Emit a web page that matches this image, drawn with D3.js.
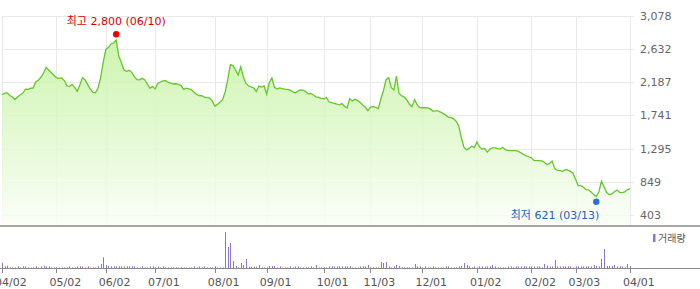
<!DOCTYPE html>
<html>
<head>
<meta charset="utf-8">
<script src="https://cdn.jsdelivr.net/npm/d3@7"></script>
<style>
  body { margin: 0; background: #fff; }
  text { font-family: "DejaVu Sans", "Noto Sans CJK KR", sans-serif; }
</style>
</head>
<body>
<div id="wrap"></div>
<script>
// daily closing price, one per trading day from 04/02 to 04/01
var prices = [
  2020,2040,2045,2010,1990,1955,1990,2015,2038,2094,2090,2107,2110,2191,2215,2254,2312,2387,2352,2316,
  2281,2245,2240,2245,2210,2140,2129,2159,2119,2066,2151,2248,2221,2156,2097,2050,2046,2107,2250,2456,
  2628,2657,2702,2715,2755,2540,2454,2352,2335,2348,2321,2262,2222,2219,2240,2222,2164,2107,2132,2098,
  2172,2191,2206,2208,2188,2175,2164,2167,2159,2143,2092,2107,2099,2087,2054,2023,2007,2006,1988,1981,
  1976,1937,1868,1890,1919,1953,2057,2227,2425,2411,2352,2285,2395,2262,2171,2137,2125,2110,2062,2137,
  2122,2137,2026,2184,2245,2118,2096,2112,2102,2096,2093,2081,2061,2042,2070,2086,2083,2062,2031,2036,
  2017,1992,1984,1972,1964,1982,1925,1914,1905,1895,1883,1902,1863,1841,1966,1937,1958,1943,1918,1880,
  1851,1806,1852,1859,1851,1833,1962,2076,2223,2249,2117,2083,2271,2036,2006,1988,1949,1891,1859,1954,
  1882,1847,1845,1845,1843,1829,1801,1803,1803,1787,1766,1745,1720,1714,1696,1664,1604,1445,1314,1278,
  1298,1327,1308,1384,1318,1290,1297,1246,1289,1304,1304,1294,1289,1312,1280,1273,1268,1268,1268,1258,
  1238,1216,1198,1186,1171,1137,1133,1133,1131,1113,1078,1096,1127,1026,1006,1001,988,1012,1008,989,
  964,887,797,797,780,743,741,712,677,650,712,857,783,705,679,688,716,738,708,705,
  714,742,757
];
// daily volume (thousand shares)
var volumes = [
  265,85,115,30,30,30,85,30,80,80,30,30,30,80,30,80,115,80,80,30,
  30,30,30,30,30,30,85,30,30,80,80,80,30,80,30,30,30,85,200,535,
  150,100,85,85,85,85,85,85,85,85,85,85,30,30,85,30,30,80,80,30,
  80,30,80,30,30,30,30,30,30,30,30,30,30,30,80,30,80,30,80,30,
  30,30,85,30,30,30,1800,1050,1250,350,100,40,250,150,450,60,60,60,60,150,
  30,30,30,100,100,100,30,80,30,30,30,80,30,80,80,30,30,30,30,80,
  30,150,30,30,30,30,80,80,80,80,80,80,80,80,100,30,30,30,80,80,
  80,150,30,30,30,30,300,250,300,80,30,80,150,100,30,30,30,30,30,200,
  80,80,30,80,30,30,80,30,30,30,30,80,80,30,30,30,80,100,250,150,
  80,30,80,30,80,80,80,80,80,150,80,30,30,30,30,80,80,30,80,80,
  80,80,80,80,80,80,80,80,30,200,120,80,80,400,80,80,80,80,80,80,
  30,80,80,80,80,80,80,80,150,100,80,450,950,100,100,100,150,80,80,80,
  30,200,100
];
var priceTicks = [403, 849, 1295, 1741, 2187, 2632, 3078];
var dateTickIdx = [0, 21, 40, 59, 82, 102, 124, 142, 162, 183, 204, 221, 242];
var dateTickLabels = ['04/02','05/02','06/02','07/01','08/01','09/01','10/01','11/03','12/01','01/02','02/02','03/03','04/01'];
var highPoint = {idx: 44, value: 2800, label: '최고 2,800 (06/10)'};
var lowPoint = {idx: 229, value: 621, label: '최저 621 (03/13)'};

var width = 700, height = 289;
var svg = d3.select('#wrap').append('svg')
  .attr('width', width)
  .attr('height', height);

var x = d3.scaleLinear().domain([0, prices.length - 1]).range([2, 630]);
var y = d3.scaleLinear().domain([403, 3078]).range([215, 16]);
var vy = d3.scaleLinear().domain([0, 2000]).range([268, 228]);
var panelBottom = 226;

//gradient
var defs = svg.append('defs');
var grad = defs.append('linearGradient')
  .attr('id', 'areaGrad')
  .attr('gradientUnits', 'userSpaceOnUse')
  .attr('x1', 0).attr('y1', 30)
  .attr('x2', 0).attr('y2', panelBottom);
grad.append('stop').attr('offset', '0%').attr('stop-color', '#c2f29c');
grad.append('stop').attr('offset', '100%').attr('stop-color', '#fafef7');

//grid
var grid = svg.append('g').attr('class', 'grid');
grid.selectAll('.hgrid')
  .data(priceTicks)
  .enter().append('line')
    .attr('x1', 2).attr('x2', 634)
    .attr('y1', function(d){ return Math.round(y(d)) + 0.5; })
    .attr('y2', function(d){ return Math.round(y(d)) + 0.5; })
    .style('stroke', '#e9e9e9');
grid.selectAll('.vgrid')
  .data(dateTickIdx)
  .enter().append('line')
    .attr('x1', function(d){ return Math.round(x(d)) + 0.5; })
    .attr('x2', function(d){ return Math.round(x(d)) + 0.5; })
    .attr('y1', 16).attr('y2', panelBottom)
    .style('stroke', '#e9e9e9');

//area + line
var area = d3.area()
  .x(function(d, i){ return x(i); })
  .y0(panelBottom)
  .y1(function(d){ return y(d); });
var line = d3.line()
  .x(function(d, i){ return x(i); })
  .y(function(d){ return y(d); });

svg.append('path')
  .datum(prices)
  .attr('d', area)
  .style('fill', 'url(#areaGrad)')
  .style('opacity', 0.85);
svg.append('path')
  .datum(prices)
  .attr('d', line)
  .style('fill', 'none')
  .style('stroke', '#62c72a')
  .style('stroke-width', 1.3);

//price labels
svg.selectAll('.ylabel')
  .data(priceTicks)
  .enter().append('text')
    .attr('x', 640)
    .attr('y', function(d){ return y(d) + 4; })
    .style('font-size', '11px')
    .style('fill', '#666')
    .text(function(d){ return d3.format(',')(d); });

//separators
svg.append('line')
  .attr('x1', 0).attr('x2', width)
  .attr('y1', panelBottom).attr('y2', panelBottom)
  .style('stroke', '#8a8a8a').style('stroke-width', 1.5);
svg.append('line')
  .attr('x1', 0).attr('x2', width)
  .attr('y1', 268.5).attr('y2', 268.5)
  .style('stroke', '#8a8a8a').style('stroke-width', 1);

//volume
svg.selectAll('.vol')
  .data(volumes)
  .enter().append('rect')
    .attr('x', function(d, i){ return Math.round(x(i)); })
    .attr('width', 1)
    .attr('y', function(d){ return vy(d); })
    .attr('height', function(d){ return 268 - vy(d); })
    .style('fill', '#8d74cc');

//date ticks
svg.selectAll('.xtick')
  .data(dateTickIdx)
  .enter().append('line')
    .attr('x1', function(d){ return Math.round(x(d)) + 0.5; })
    .attr('x2', function(d){ return Math.round(x(d)) + 0.5; })
    .attr('y1', 268).attr('y2', 273)
    .style('stroke', '#8a8a8a');
svg.selectAll('.xlabel')
  .data(dateTickIdx)
  .enter().append('text')
    .attr('x', function(d){ return x(d) - 7; })
    .attr('y', 286)
    .style('font-size', '11px')
    .style('fill', '#555')
    .text(function(d, i){ return dateTickLabels[i]; });

//legend
svg.append('rect')
  .attr('x', 653).attr('y', 234)
  .attr('width', 2.5).attr('height', 8)
  .style('fill', '#8d74cc');
svg.append('text')
  .attr('x', 658).attr('y', 242)
  .style('font-size', '10px')
  .style('fill', '#555')
  .text('거래량');

//high / low markers
var hx = x(highPoint.idx), hy = y(highPoint.value) - 2.5;
svg.append('circle').attr('cx', hx).attr('cy', hy).attr('r', 3.2).style('fill', '#ee0000');
svg.append('text')
  .attr('x', hx).attr('y', hy - 9)
  .attr('text-anchor', 'middle')
  .style('font-size', '11px')
  .style('fill', '#e00000')
  .text(highPoint.label);

var lx = x(lowPoint.idx), ly = y(lowPoint.value) + 3;
svg.append('circle').attr('cx', lx).attr('cy', ly).attr('r', 3.2).style('fill', '#2b6fd8');
svg.append('text')
  .attr('x', lx + 3).attr('y', ly + 17)
  .attr('text-anchor', 'end')
  .style('font-size', '11px')
  .style('fill', '#2260c8')
  .text(lowPoint.label);
</script>
</body>
</html>
